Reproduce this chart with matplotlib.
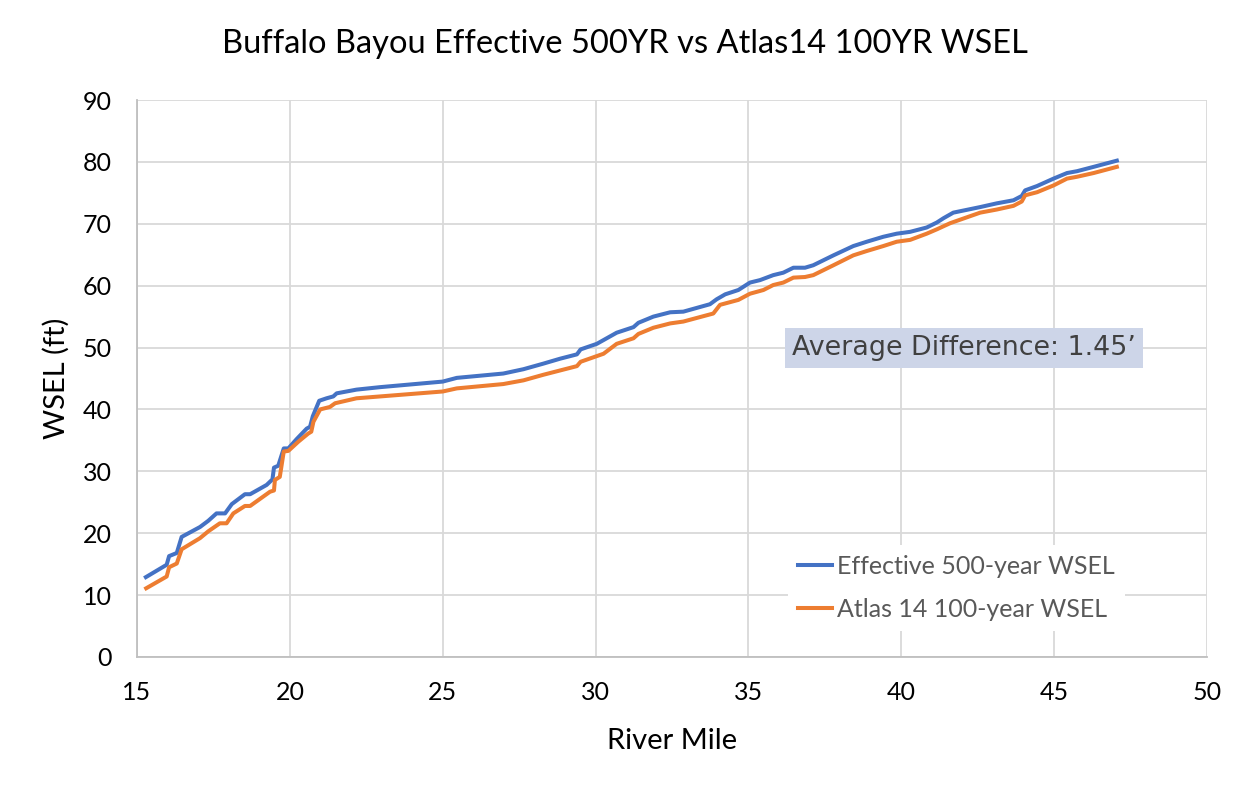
import matplotlib.pyplot as plt

# River mile / WSEL
eff_mile = [15.29, 15.97, 16.05, 16.3, 16.46, 17.06, 17.33, 17.6, 17.88, 18.1, 18.53, 18.7,
            19.24, 19.43, 19.48, 19.62, 19.8, 19.95, 20.22, 20.55, 20.66, 20.75, 20.96, 21.2,
            21.42, 21.53, 22.18, 22.95, 25.0, 25.46, 26.33, 26.98, 27.64, 28.29, 28.84, 29.39,
            29.51, 30.04, 30.69, 31.24, 31.4, 31.89, 32.44, 32.87, 33.74, 33.96, 34.24, 34.67,
            35.05, 35.38, 35.81, 36.14, 36.47, 36.85, 37.12, 37.78, 38.43, 38.87, 39.41, 39.85,
            40.29, 40.83, 41.16, 41.38, 41.7, 42.58, 43.12, 43.67, 43.94, 44.05, 44.44, 44.98,
            45.42, 45.75, 46.29, 47.05]
eff_wsel = [12.9, 14.9, 16.3, 16.8, 19.4, 21.0, 22.0, 23.2, 23.2, 24.7, 26.3, 26.3,
            27.8, 28.7, 30.6, 30.9, 33.7, 33.7, 35.2, 36.9, 37.2, 38.9, 41.4, 41.8,
            42.1, 42.6, 43.2, 43.6, 44.5, 45.1, 45.5, 45.8, 46.5, 47.4, 48.2, 48.9,
            49.7, 50.6, 52.4, 53.3, 54.0, 55.0, 55.7, 55.8, 57.0, 57.8, 58.6, 59.3,
            60.5, 60.9, 61.7, 62.1, 62.9, 62.9, 63.3, 64.9, 66.4, 67.1, 67.9, 68.4,
            68.7, 69.4, 70.2, 70.9, 71.8, 72.7, 73.3, 73.8, 74.5, 75.4, 76.1, 77.3,
            78.2, 78.5, 79.2, 80.2]

a14_mile = [15.3, 15.97, 16.05, 16.3, 16.46, 17.06, 17.33, 17.71, 17.93, 18.15, 18.53, 18.7,
            19.35, 19.48, 19.51, 19.67, 19.8, 19.95, 20.28, 20.6, 20.7, 20.77, 20.99, 21.31,
            21.48, 22.18, 22.95, 25.0, 25.46, 26.33, 26.98, 27.64, 28.29, 28.84, 29.39, 29.51,
            30.26, 30.69, 31.24, 31.4, 31.89, 32.44, 32.87, 33.85, 34.07, 34.67, 35.05, 35.49,
            35.81, 36.14, 36.47, 36.85, 37.12, 37.78, 38.43, 38.87, 39.41, 39.85, 40.29, 40.83,
            41.16, 41.6, 42.58, 43.12, 43.67, 43.94, 44.05, 44.44, 44.98, 45.42, 45.75, 46.29,
            47.05]
a14_wsel = [11.1, 13.0, 14.5, 15.1, 17.4, 19.2, 20.3, 21.6, 21.6, 23.2, 24.4, 24.4,
            26.7, 26.9, 28.6, 29.1, 33.2, 33.3, 34.8, 36.1, 36.4, 38.0, 40.0, 40.4,
            41.0, 41.8, 42.1, 42.9, 43.4, 43.8, 44.1, 44.7, 45.6, 46.3, 47.0, 47.7,
            49.0, 50.6, 51.5, 52.2, 53.2, 53.9, 54.2, 55.5, 56.9, 57.7, 58.7, 59.3,
            60.1, 60.5, 61.3, 61.4, 61.7, 63.3, 64.9, 65.6, 66.4, 67.1, 67.4, 68.4,
            69.1, 70.1, 71.8, 72.3, 72.9, 73.6, 74.6, 75.1, 76.2, 77.3, 77.6, 78.2,
            79.2]

plt.rcParams['font.family'] = ['Lato', 'DejaVu Sans']

fig = plt.figure(figsize=(12.49, 7.90), dpi=100)
ax = fig.add_axes([0.1097, 0.1684, 0.8567, 0.705])

ax.plot(eff_mile, eff_wsel, color="#4472C4", lw=2.9, label="Effective 500-year WSEL",
        solid_joinstyle="round", zorder=3)
ax.plot(a14_mile, a14_wsel, color="#ED7D31", lw=2.9, label="Atlas 14 100-year WSEL",
        solid_joinstyle="round", zorder=3)

ax.set_xlim(15, 50)
ax.set_ylim(0, 90)
ax.set_xticks(range(15, 51, 5))
ax.set_yticks(range(0, 91, 10))
ax.grid(True, color="#D9D9D9", lw=1.3)
ax.set_axisbelow(True)
for side in ["top", "right"]:
    ax.spines[side].set_visible(False)
for side in ["left", "bottom"]:
    ax.spines[side].set_color("#BFBFBF")
    ax.spines[side].set_linewidth(1.3)
ax.tick_params(axis="x", length=0, labelsize=18, colors="black", pad=17)
ax.tick_params(axis="y", length=0, labelsize=18, colors="black", pad=18)

fig.text(0.5, 1 - 44 / 790, "Buffalo Bayou Effective 500YR vs Atlas14 100YR WSEL",
         fontsize=23.5, ha="center", va="center")
ax.set_xlabel("River Mile", fontsize=21)
ax.xaxis.set_label_coords(0.5, -(728 - 657) / 557)
ax.set_ylabel("WSEL (ft)", fontsize=21)
ax.yaxis.set_label_coords(-(137 - 70) / 1070, 0.5)

ax.text(0.773, 0.555, "Average Difference: 1.45\u2019", transform=ax.transAxes,
        fontsize=19.4, color="#404040", family=["DejaVu Sans"], ha="center", va="center",
        bbox=dict(facecolor="#CDD5E8", edgecolor="none", boxstyle="square,pad=0.25"))

leg = ax.legend(loc="lower right", bbox_to_anchor=(0.935, 0.025), fontsize=18,
                frameon=True, fancybox=False, framealpha=1, edgecolor="none",
                handlelength=1.35, handletextpad=0.2, labelspacing=0.8)
for t in leg.get_texts():
    t.set_color("#595959")

fig.savefig("out.png", dpi=100)
